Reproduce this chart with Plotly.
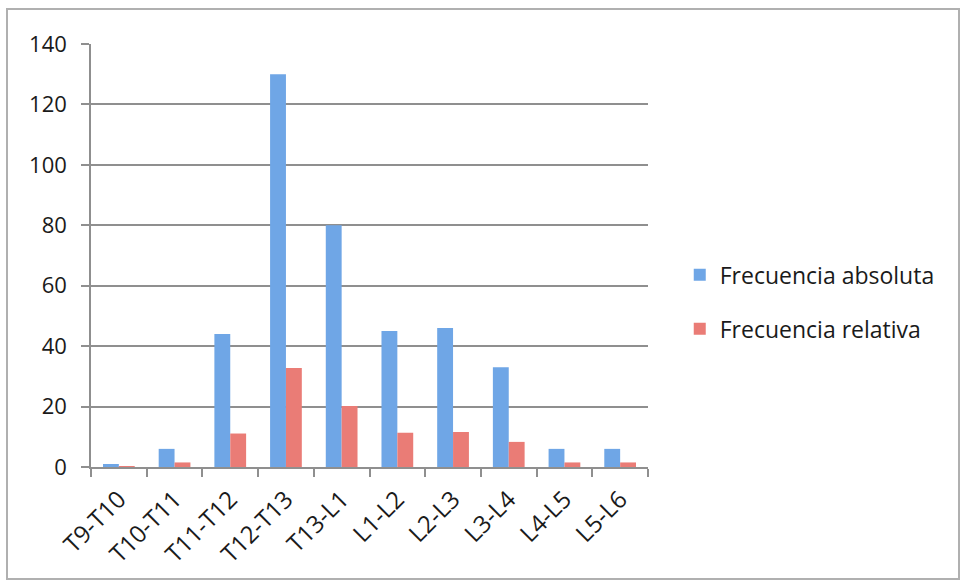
import plotly.graph_objects as go

# Vertebral segments and their counts
segmentos = ["T9-T10", "T10-T11", "T11-T12", "T12-T13", "T13-L1",
             "L1-L2", "L2-L3", "L3-L4", "L4-L5", "L5-L6"]
frecuencia_absoluta = [1, 6, 44, 130, 80, 45, 46, 33, 6, 6]
frecuencia_relativa = [0.25, 1.51, 11.08, 32.75, 20.15, 11.34, 11.59, 8.31, 1.51, 1.51]
y_ticks = [0, 20, 40, 60, 80, 100, 120, 140]

FONT = "'Open Sans', Lato, sans-serif"
GRID = "#8f8f8f"
TEXT = "#1a1a1a"

fig = go.Figure()
fig.add_trace(go.Bar(
    x=segmentos, y=frecuencia_absoluta, name="Frecuencia absoluta",
    legendgroup="abs",
    marker=dict(color="#6fa6e6", line=dict(width=0)),
))
fig.add_trace(go.Bar(
    x=segmentos, y=frecuencia_relativa, name="Frecuencia relativa",
    legendgroup="rel",
    marker=dict(color="#ea7c76", line=dict(width=0)),
))

fig.update_layout(
    width=963, height=583,
    margin=dict(l=91, r=315, t=44, b=116),
    paper_bgcolor="white", plot_bgcolor="white",
    barmode="group", bargap=0.43, bargroupgap=0,
    font=dict(family=FONT, size=20, color=TEXT),
    showlegend=True,
    legend=dict(
        x=1.057, y=0.505, xanchor="left", yanchor="top",
        font=dict(family=FONT, size=23, color=TEXT),
        tracegroupgap=21, itemwidth=30,
        bgcolor="rgba(0,0,0,0)",
    ),
    shapes=[dict(
        type="rect", xref="paper", yref="paper",
        x0=-84 / 557, x1=868 / 557, y0=-112 / 423, y1=458 / 423,
        line=dict(color="#b0b0b0", width=2), fillcolor="rgba(0,0,0,0)",
        layer="below",
    )],
)

fig.update_xaxes(
    type="category", tickangle=-45, tickson="boundaries",
    showline=True, linecolor=GRID, linewidth=1.5,
    ticks="outside", ticklen=8, tickcolor=GRID, tickwidth=1.5,
    tickfont=dict(family=FONT, size=24, color=TEXT),
    ticklabelstandoff=7,
    showgrid=False,
)
fig.update_yaxes(
    range=[0, 140], tickvals=y_ticks,
    showline=True, linecolor=GRID, linewidth=1.5,
    ticks="outside", ticklen=8, tickcolor=GRID, tickwidth=1.5,
    showgrid=True, gridcolor=GRID, gridwidth=1.5,
    zeroline=False,
    tickfont=dict(family=FONT, size=22, color=TEXT),
    ticklabelstandoff=10,
)

fig.write_html("out.html")
